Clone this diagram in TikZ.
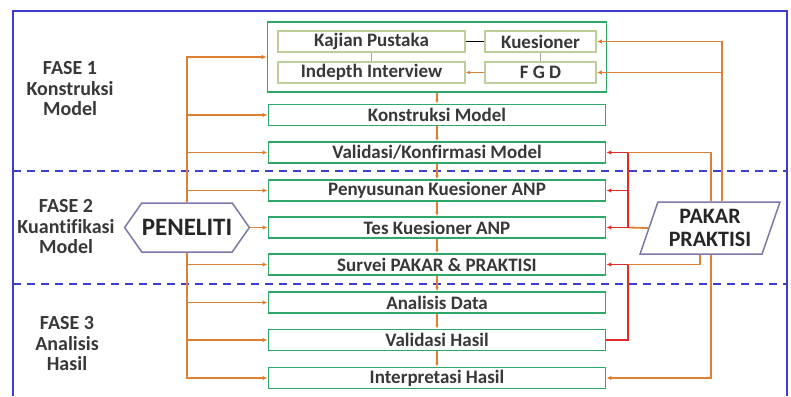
\documentclass[tikz,border=0pt]{standalone}
\usepackage{fontspec}
\setmainfont{Carlito}[Ligatures=NoCommon]
\usetikzlibrary{arrows.meta,shapes.geometric,shapes.symbols}
\definecolor{fasegreen}{RGB}{46,168,104}
\definecolor{faseolive}{RGB}{190,206,152}
\definecolor{faseorange}{RGB}{222,128,52}
\definecolor{fasered}{RGB}{226,42,42}
\definecolor{faseblue}{RGB}{62,62,206}
\definecolor{fasepurple}{RGB}{128,118,168}
\definecolor{fasetext}{RGB}{56,56,56}
\tikzset{
  stepbox/.style={draw=fasegreen, line width=1.8pt, fill=white, minimum width=337pt,
    minimum height=21pt, inner sep=0pt, text=fasetext, font=\fontsize{19}{20}\selectfont\bfseries},
  subbox/.style={draw=faseolive, line width=1.5pt, fill=white, minimum height=21pt,
    inner sep=0pt, text=fasetext, font=\fontsize{19}{20}\selectfont\bfseries},
  groupbox/.style={draw=fasegreen, line width=1.8pt, minimum width=339pt, minimum height=70pt},
  actor/.style={draw=fasepurple, line width=1.5pt, fill=white, align=center, inner sep=0pt,
    text=black!85, font=\fontsize{25}{25}\selectfont\bfseries},
  phaselabel/.style={align=center, text=fasetext, font=\fontsize{20}{20.5}\selectfont\bfseries},
  flow/.style={-{Latex[length=5pt,width=4.5pt]}, line width=1.8pt, draw=faseorange},
  stepflow/.style={-{Latex[length=4pt,width=3.5pt]}, line width=1.4pt, draw=faseorange},
  oline/.style={line width=1.8pt, draw=faseorange},
  feedback/.style={-{Latex[length=5pt,width=4.5pt]}, line width=1.8pt, draw=fasered},
  rline/.style={line width=1.8pt, draw=fasered},
  frame/.style={draw=faseblue, line width=2pt},
  phasesep/.style={draw=faseblue, line width=2pt, dash pattern=on 8pt off 6pt}
}
\begin{document}
\begin{tikzpicture}[x=1pt,y=-1pt]
  \useasboundingbox (0,0) rectangle (791,396);

  \draw[frame] (13,396) |- (787,11) -- (787,396);
  \draw[phasesep] (13,171) -- (787,171);
  \draw[phasesep] (13,284) -- (787,284);

  \node[phaselabel] (fase1) at (70,89) {FASE 1\\Konstruksi\\Model};
  \node[phaselabel] (fase2) at (66,227) {FASE 2\\Kuantifikasi\\Model};
  \node[phaselabel] (fase3) at (67,344) {FASE 3\\Analisis\\Hasil};

  \node[groupbox] (grp) at (437,57) {};
  \node[subbox, minimum width=187pt] (kajian) at (371.5,41.5) {Kajian Pustaka};
  \node[subbox, minimum width=111pt] (kuesioner) at (540.5,41.5) {Kuesioner};
  \node[subbox, minimum width=187pt] (indepth) at (371.5,72.5) {Indepth Interview};
  \node[subbox, minimum width=111pt] (fgd) at (540.5,72.5) {F G D};

  \node[stepbox] (konstruksi) at (437,115) {Konstruksi Model};
  \node[stepbox] (valmodel) at (437,152.5) {Validasi/Konfirmasi Model};
  \node[stepbox] (penyusunan) at (437,190.5) {Penyusunan Kuesioner ANP};
  \node[stepbox] (tes) at (437,227.5) {Tes Kuesioner ANP};
  \node[stepbox] (survei) at (437,264.5) {Survei PAKAR \& PRAKTISI};
  \node[stepbox] (analisis) at (437,302.5) {Analisis Data};
  \node[stepbox] (valhasil) at (437,340) {Validasi Hasil};
  \node[stepbox] (interpretasi) at (437,378) {Interpretasi Hasil};

  \node[actor, signal, signal to=east and west, signal pointer angle=110,
    minimum width=109pt, minimum height=49pt]
    (peneliti) at (187,227.5) {PENELITI};
  \node[actor, trapezium, trapezium left angle=69, trapezium right angle=111,
    trapezium stretches=true, minimum width=140pt, minimum height=52pt,
    font=\fontsize{22}{22.5}\selectfont\bfseries]
    (pakar) at (710,228) {PAKAR\\PRAKTISI};

  \coordinate (rA) at (722,0);
  \coordinate (rB) at (711,0);
  \coordinate (rC) at (628,0);
  \coordinate (rD) at (700,0);

  \draw[black, line width=1.4pt] (kajian.east) -- (kuesioner.west);
  \draw[black!35, line width=1.3pt] (kajian.south) -- (indepth.north);
  \draw[black!35, line width=1.3pt] (kuesioner.south) -- (fgd.north);
  \draw[stepflow] (fgd.west) -- (indepth.east);

  \draw[stepflow] (grp.south) -- (konstruksi.north);
  \draw[stepflow] (konstruksi.south) -- (valmodel.north);
  \draw[stepflow] (valmodel.south) -- (penyusunan.north);
  \draw[stepflow] (penyusunan.south) -- (tes.north);
  \draw[stepflow] (tes.south) -- (survei.north);
  \draw[stepflow] (survei.south) -- (analisis.north);
  \draw[stepflow] (analisis.south) -- (valhasil.north);
  \draw[stepflow] (valhasil.south) -- (interpretasi.north);

  \draw[flow] (peneliti.north) |- (grp.west);
  \foreach \n in {konstruksi, valmodel, penyusunan}
    \draw[flow] (peneliti.north) |- (\n.west);
  \draw[flow] (peneliti.east) -- (tes.west);
  \foreach \n in {survei, analisis, valhasil, interpretasi}
    \draw[flow] (peneliti.south) |- (\n.west);

  \draw[flow] (pakar.north -| rA) |- (kuesioner.east);
  \draw[flow] (pakar.north -| rA) |- (fgd.east);
  \draw[oline] (pakar.north -| rB) |- (rC |- valmodel.east);
  \draw[oline] (pakar.west) -- (rC |- tes.east);
  \draw[oline] (pakar.south -| rD) |- (rC |- survei.east);
  \draw[flow] (pakar.south -| rB) |- (interpretasi.east);
  \draw[rline] (rC |- valmodel.east) -- (rC |- tes.east);
  \draw[rline] (valhasil.east) -| (rC |- survei.east);
  \foreach \n in {valmodel, penyusunan, tes, survei}
    \draw[feedback] (rC |- \n.east) -- (\n.east);
\end{tikzpicture}
\end{document}
